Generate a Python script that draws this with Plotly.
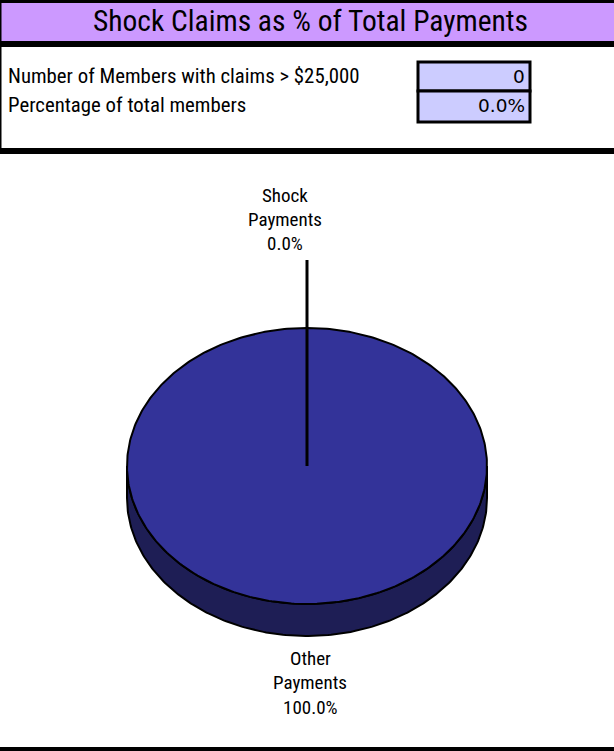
import numpy as np
import plotly.graph_objects as go

# ---- data ----
title_text = "Shock Claims as % of Total Payments"
row_labels = ["Number of Members with claims > $25,000", "Percentage of total members"]
row_values = ["0", "0.0%"]
slice_names = [["Shock", "Payments"], ["Other", "Payments"]]
slice_values = [0.0, 100.0]

# ---- style / geometry ----
W, H = 614, 751
NARROW = "Roboto Condensed, Liberation Sans Narrow, sans-serif"
TOP_COL = "#333399"
SIDE_COL = "#1E1E55"
cx, cy, rx, ry, depth = 307, 466, 180, 138, 32

fig = go.Figure()

total = sum(slice_values)
fracs = [v / total for v in slice_values]

def pt(theta):
    # theta measured clockwise from 12 o'clock, in radians
    return cx + rx * np.sin(theta), cy - ry * np.cos(theta)

# side band (front half)
th = np.linspace(np.pi / 2, 3 * np.pi / 2, 200)
xs, ys = pt(th)
side_x = np.concatenate([xs, xs[::-1], xs[:1]])
side_y = np.concatenate([ys, ys[::-1] + depth, ys[:1]])
fig.add_trace(go.Scatter(x=side_x, y=side_y, mode="lines", fill="toself",
                         fillcolor=SIDE_COL, line=dict(color="black", width=2),
                         hoverinfo="skip", showlegend=False))

# top faces of slices
start = 0.0
mids = []
for f in fracs:
    a0, a1 = 2 * np.pi * start, 2 * np.pi * (start + f)
    if f > 0:
        t = np.linspace(a0, a1, 400)
        px, py = pt(t)
        if f < 1:
            px = np.concatenate([[cx], px, [cx]])
            py = np.concatenate([[cy], py, [cy]])
        fig.add_trace(go.Scatter(x=px, y=py, mode="lines", fill="toself",
                                 fillcolor=TOP_COL, line=dict(color="black", width=2),
                                 hoverinfo="skip", showlegend=False))
    mids.append((a0 + a1) / 2)
    start += f

# slice border + leader line for the zero-width slice
ex, ey = pt(mids[0])
fig.add_trace(go.Scatter(x=[cx, ex, ex], y=[cy, ey, 260],
                         mode="lines", line=dict(color="black", width=3),
                         hoverinfo="skip", showlegend=False))

# labels (one annotation per line to control spacing)
pcts = [f"{f*100:.1f}%" for f in fracs]
label_specs = [(285, [195, 219, 243]), (310, [658, 682, 707])]
for (lx, lys), name, pct in zip(label_specs, slice_names, pcts):
    for line, ly in zip(name + [pct], lys):
        fig.add_annotation(x=lx, y=ly, text=line, showarrow=False,
                           font=dict(family=NARROW, size=19, color="black"))

shapes = []
def band(y0, y1, col, x0=0, x1=W):
    shapes.append(dict(type="rect", xref="x", yref="y", x0=x0, x1=x1, y0=y0, y1=y1,
                       fillcolor=col, line_width=0, layer="below"))

band(0, 3, "black")
band(3, 41, "#CC99FF")
band(41, 47, "black")
band(148, 154, "black")
band(747, 751, "black")
band(0, 148, "black", x0=0, x1=1.5)

# value boxes
box_rows = [(62, 91), (91, 122)]
for (y0, y1) in box_rows:
    shapes.append(dict(type="rect", xref="x", yref="y", x0=418, x1=530, y0=y0, y1=y1,
                       fillcolor="#CCCCFF", line=dict(color="black", width=3), layer="below"))

fig.add_annotation(x=310, y=21, text=title_text, showarrow=False,
                   font=dict(family=NARROW, size=29.5, color="black"))
row_y = [76, 105]
for lab, val, yy in zip(row_labels, row_values, row_y):
    fig.add_annotation(x=6, y=yy, text=lab, showarrow=False, xanchor="left",
                       font=dict(family=NARROW, size=20.8, color="black"))
    fig.add_annotation(x=527, y=yy, text=val, showarrow=False, xanchor="right",
                       font=dict(family="DejaVu Sans, Verdana, sans-serif", size=18.5, color="black"))

fig.update_layout(
    width=W, height=H, margin=dict(l=0, r=0, t=0, b=0),
    paper_bgcolor="white", plot_bgcolor="white",
    xaxis=dict(range=[0, W], visible=False, fixedrange=True),
    yaxis=dict(range=[H, 0], visible=False, fixedrange=True),
    shapes=shapes, showlegend=False,
)

fig.write_html("out.html", config={"displayModeBar": False},
               post_script="document.body.style.margin='0';")
